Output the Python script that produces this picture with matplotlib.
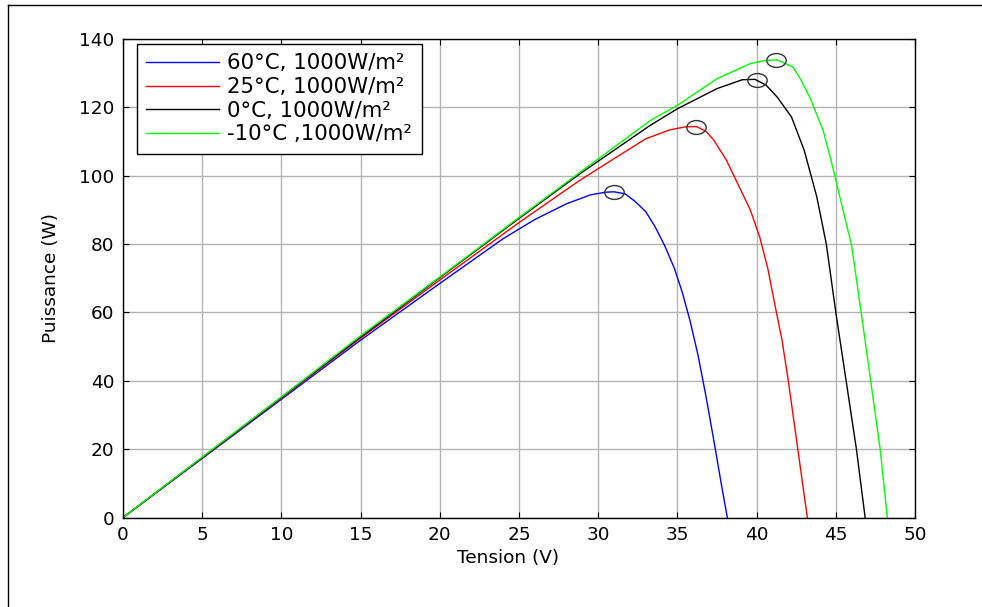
import matplotlib
matplotlib.use("Agg")
import matplotlib.pyplot as plt
from matplotlib.lines import Line2D
from matplotlib.path import Path
from matplotlib.transforms import Affine2D

plt.rcParams['font.family'] = ['DejaVu Sans']

# P-V curves (tension in V, puissance in W)
V_60 = [0, 5, 10, 15, 20, 24, 26, 28, 29.5, 30.5, 31, 31.7, 32.3, 33, 33.6,
        34.2, 34.8, 35.3, 35.8, 36.3, 36.8, 37.3, 37.8, 38.15]
P_60 = [0, 17.3, 34.6, 51.9, 68.5, 81.6, 87.2, 91.8, 94.4, 95.2, 95.3, 94.7,
        92.6, 89.5, 85.0, 79.5, 73.0, 66.0, 57.5, 47.5, 35.5, 22.5, 9.0, 0]

V_25 = [0, 5, 10, 15, 20, 25, 28.85, 31, 33, 34.5, 35.5, 36.2, 36.8, 37.3,
        38.1, 38.7, 39.6, 40.2, 40.7, 41.25, 41.6, 42.0, 42.6, 43.2]
P_25 = [0, 17.5, 35.0, 52.5, 69.5, 86.3, 98.7, 105.0, 110.8, 113.4, 114.3,
        114.4, 113.0, 110.4, 104.5, 98.7, 90.0, 82.0, 73.0, 60.0, 52.0, 40.0,
        20.0, 0]

V_0 = [0, 5, 10, 15, 20, 25, 28.85, 33.3, 35, 37.5, 39.1, 39.9, 40.6, 41.3,
       42.2, 43.0, 43.8, 44.4, 45.0, 45.65, 46.3, 46.85]
P_0 = [0, 17.6, 35.2, 52.8, 70.2, 87.5, 100.6, 114.8, 119.6, 125.5, 128.1,
       128.2, 126.5, 123.0, 117.2, 107.5, 93.8, 80.0, 60.0, 40.0, 20.0, 0]

V_m10 = [0, 5, 10, 15, 20, 25, 28.85, 33.3, 35, 37.5, 39.6, 40.5, 41.3, 42.3,
         42.8, 43.35, 44.2, 44.8, 45.4, 46.0, 46.6, 47.2, 47.8, 48.25]
P_m10 = [0, 17.7, 35.3, 53.2, 70.4, 87.8, 101.0, 116.2, 120.6, 128.4, 132.8,
         133.7, 133.9, 131.8, 128.0, 123.0, 113.3, 102.6, 91.0, 79.5, 60.0,
         40.0, 20.0, 0]

# maximum power points (circled)
mpp_V = [31.0, 36.2, 40.0, 41.2]
mpp_P = [95.3, 114.3, 128.0, 134.0]

labels = ["60°C, 1000W/m²", "25°C, 1000W/m²", "0°C, 1000W/m²", "-10°C ,1000W/m²"]
colors = ["#0000ff", "#ff0000", "#000000", "#00ff00"]

fig = plt.figure(figsize=(9.82, 6.07), dpi=100)
ax = fig.add_axes([0.1253, 0.1474, 0.8065, 0.7883])

for V, P, lab, col in zip([V_60, V_25, V_0, V_m10], [P_60, P_25, P_0, P_m10],
                          labels, colors):
    ax.plot(V, P, color=col, lw=1.0, label=lab)

# slightly wide ellipse marker like the stretched original
ell = Path.unit_circle().transformed(Affine2D().scale(1.4, 1.0))
ax.plot(mpp_V, mpp_P, linestyle="none", marker=ell, markersize=14,
        markerfacecolor="none", markeredgecolor="#333333", markeredgewidth=1.0)

ax.set_xlim(0, 50)
ax.set_ylim(0, 140)
ax.set_xticks(range(0, 51, 5))
ax.set_yticks(range(0, 141, 20))
ax.grid(True, color="#b4b4b4", lw=1.0)
ax.set_axisbelow(True)
ax.tick_params(direction="in", top=True, right=True, length=4, labelsize=13.3,
               pad=6)
for s in ax.spines.values():
    s.set_linewidth(1.0)

ax.set_xlabel("Tension (V)", fontsize=13.3)
ax.set_ylabel("Puissance (W)", fontsize=13.3)
ax.xaxis.set_label_coords(0.486, -0.066)
ax.yaxis.set_label_coords(-0.0795, 0.5)

leg = ax.legend(loc="upper left", bbox_to_anchor=(0.0175, 0.99),
                borderaxespad=0, fontsize=15.3, fancybox=False, framealpha=1,
                edgecolor="black", handlelength=3.4, handletextpad=0.4,
                labelspacing=0.17, borderpad=0.45)
leg.get_frame().set_linewidth(1.0)

# figure border (left and top only)
fig.add_artist(Line2D([8 / 982, 8 / 982], [0, 1 - 5 / 607], color="black", lw=1.0))
fig.add_artist(Line2D([8 / 982, 1], [1 - 5 / 607, 1 - 5 / 607], color="black", lw=1.0))

fig.savefig("out.png", dpi=100)
